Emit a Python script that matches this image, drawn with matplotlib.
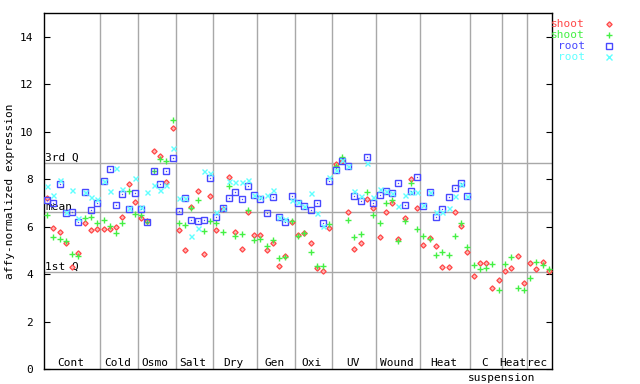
import numpy as np
import matplotlib
matplotlib.use("Agg")
import matplotlib.pyplot as plt

nan = np.nan

groups = ["Cont", "Cold", "Osmo", "Salt", "Dry", "Gen", "Oxi", "UV", "Wound",
          "Heat", "C suspension", "Heat", "rec"]
group_sizes = [9, 6, 6, 6, 7, 6, 6, 7, 7, 8, 5, 4, 4]

shoot_1 = [7.20, 5.93, 5.77, 5.30, 4.31, 4.90, 6.14, 5.86, 5.89,
           5.90, 5.90, 5.97, 6.40, 7.80, 7.04,
           6.36, 6.22, 9.20, 8.99, 7.88, 10.16,
           5.85, 5.01, 6.84, 7.50, 4.84, 7.29,
           5.86, 6.73, 8.08, 5.77, 5.04, 6.62, 5.65,
           5.65, 5.00, 5.30, 4.32, 4.75, 6.18,
           5.65, 5.72, 5.30, 4.24, 4.13, 5.93,
           8.65, 8.75, 6.61, 5.04, 5.30, 7.18, 6.77,
           5.55, 6.61, 6.99, 5.46, 6.35, 8.01, 6.77,
           5.21, 5.54, 5.18, 4.28, 4.28, 6.61, 6.01, 4.92,
           3.90, 4.45, 4.45, 3.42, 3.73,
           4.11, 4.24, 4.75, 3.61,
           4.45, 4.20, 4.50, 4.12]

shoot_2 = [6.49, 5.55, 5.48, 5.39, 4.85, 4.76, 6.35, 6.41, 6.14,
           6.28, 6.04, 5.73, 6.15, 7.49, 6.53,
           6.50, 6.18, 8.34, 8.85, 8.75, 10.51,
           6.15, 6.08, 6.77, 7.13, 5.82, 6.25,
           6.14, 5.76, 7.72, 5.59, 5.68, 6.69, 5.42,
           5.46, 5.17, 5.42, 4.66, 4.70, 6.23,
           5.61, 5.72, 4.92, 4.32, 4.32, 6.11,
           8.55, 8.93, 6.27, 5.55, 5.68, 7.44, 6.50,
           6.14, 6.99, 7.11, 5.38, 6.23, 7.83, 5.89,
           5.61, 5.46, 4.80, 4.94, 4.80, 5.61, 6.14, 5.14,
           4.38, 4.20, 4.24, 4.41, 3.31,
           4.41, 4.70, 3.43, 3.31,
           3.82, 4.50, 4.37, 4.20]

root_1 = [7.13, 6.99, 7.80, 6.59, 6.61, 6.18, 7.44, 6.70, 6.99,
          7.91, 8.43, 6.89, 7.37, 6.73, 7.42,
          6.74, 6.19, 8.33, 7.80, 8.33, 8.89,
          6.66, 7.22, 6.29, 6.23, 6.29, 8.05,
          6.40, 6.80, 7.20, 7.45, 7.15, 7.70, 7.34,
          7.15, 6.56, 7.24, 6.39, 6.21, 7.30,
          7.01, 6.87, 6.69, 6.99, 6.14, 7.92,
          8.37, 8.75, 8.54, 7.31, 7.07, 8.93, 6.99,
          7.32, 7.49, 7.41, 7.83, 6.90, 7.49, 8.08,
          6.87, 7.44, 6.41, 6.75, 7.24, 7.62, 7.83, 7.31,
          nan, nan, nan, nan, nan,
          nan, nan, nan, nan,
          nan, nan, nan, nan]

root_2 = [7.69, 7.34, 7.97, 6.60, 7.54, 6.37, 7.44, 7.24, 7.15,
          7.91, 7.49, 8.47, 7.58, 6.80, 8.05,
          6.82, 7.44, 7.74, 7.53, 7.75, 9.31,
          7.22, 7.22, 5.60, 5.94, 8.34, 8.27,
          6.61, 6.80, 7.92, 7.87, 7.87, 7.96, 7.34,
          7.25, 7.34, 7.54, 6.39, 6.30, 7.13,
          7.05, 6.87, 7.41, 6.56, 6.03, 8.11,
          8.40, 8.80, 8.54, 7.50, 7.28, 8.68, 7.24,
          7.58, 7.49, 7.41, 6.86, 7.32, 7.45, 7.45,
          6.92, 7.44, 6.61, 6.61, 6.80, 7.27, 7.80, 7.31,
          nan, nan, nan, nan, nan,
          nan, nan, nan, nan,
          nan, nan, nan, nan]

stat_labels = ["3rd Q", "mean", "1st Q"]
stat_values = [8.68, 6.61, 4.07]

series_names = ["shoot", "shoot", "root", "root"]
colors = ["#ff4848", "#44f044", "#4848ff", "#60ffff"]

W, H = 640, 384
fig = plt.figure(figsize=(W / 100, H / 100), dpi=100)
L, R, T, B = 44, 552, 13, 369
ax = fig.add_axes([L / W, 1 - B / H, (R - L) / W, (B - T) / H])

n = sum(group_sizes)
x = np.arange(n) + 0.5
ax.set_xlim(0, n)
ax.set_ylim(0, 15)

mono = "DejaVu Sans Mono"
grid_c = "#a8a8a8"

# group separators
edges = np.cumsum(group_sizes)
for e in edges[:-1]:
    ax.axvline(e, color=grid_c, lw=1.0, zorder=1)
for v in stat_values:
    ax.axhline(v, color=grid_c, lw=1.0, zorder=1)
for lab, v in zip(stat_labels, stat_values):
    ax.text(0.15, v + 0.02, lab, family=mono, fontsize=8, va="bottom", ha="left", zorder=2)

# data
ax.plot(x, shoot_1, ls="none", marker="D", ms=2.7, mfc="#ffb4b4", mec=colors[0], mew=0.9, zorder=3)
ax.plot(x, shoot_2, ls="none", marker="+", ms=5, mec=colors[1], mew=1.0, zorder=4)
ax.plot(x, root_1, ls="none", marker="s", ms=4.0, mfc="none", mec=colors[2], mew=1.0, zorder=5)
ax.plot(x, root_1, ls="none", marker="s", ms=0.9, mfc=colors[2], mec=colors[2], mew=0, zorder=5)
ax.plot(x, root_2, ls="none", marker="x", ms=3.6, mec=colors[3], mew=1.0, zorder=6)

# group labels
starts = np.concatenate([[0], edges[:-1]])
for name, s, sz in zip(groups, starts, group_sizes):
    c = s + sz / 2
    parts = name.split(" ")
    ax.text(c - 0.3, 0.12, parts[0], family=mono, fontsize=8, ha="center", va="baseline")
    if len(parts) > 1:
        ax.text(c + 2.4, -0.38, " ".join(parts[1:]), family=mono, fontsize=8,
                ha="center", va="center", clip_on=False)

ax.set_yticks(np.arange(0, 15, 2))
ax.set_xticks([])
ax.tick_params(axis="y", direction="in", length=4.3, width=0.8, labelsize=8,
               left=True, right=True, labelleft=True, labelright=False, pad=8)
for lbl in ax.get_yticklabels():
    lbl.set_family(mono)
for sp in ax.spines.values():
    sp.set_linewidth(1.0)
    sp.set_color("black")

fig.text(10 / W, 1 - 191 / H, "affy-normalized expression", rotation=90, family=mono,
         fontsize=8, ha="center", va="center")

# legend
leg_y = [24, 35, 46, 57]
mk = ["D", "+", "s", "x"]
for name, c, yy, m in zip(series_names, colors, leg_y, mk):
    fig.text(585 / W, 1 - yy / H, name, color=c, family=mono, fontsize=8, ha="right", va="center")
    kw = dict(ls="none", marker=m, transform=fig.transFigure, clip_on=False)
    if m == "D":
        fig.lines.append(plt.Line2D([609 / W], [1 - yy / H], ms=2.7, mfc="#ffb4b4", mec=c, mew=0.9, **kw))
    elif m == "s":
        fig.lines.append(plt.Line2D([609 / W], [1 - yy / H], ms=4.0, mfc="none", mec=c, mew=1.0, **kw))
    else:
        fig.lines.append(plt.Line2D([609 / W], [1 - yy / H], ms=4.5, mec=c, mew=1.0, **kw))

fig.savefig("out.png", dpi=100)
